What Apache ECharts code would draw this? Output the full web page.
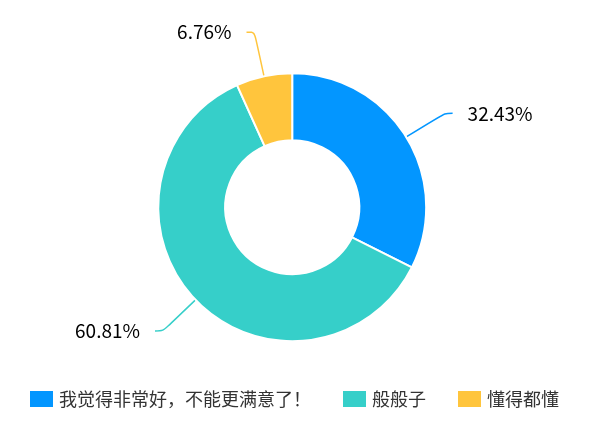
<!DOCTYPE html>
<html>
<head>
<meta charset="utf-8">
<script src="https://cdn.jsdelivr.net/npm/echarts@6/dist/echarts.min.js"></script>
<style>
html, body { margin: 0; padding: 0; background: #fff; }
#chartmainPie { width: 605px; height: 428px; }
</style>
</head>
<body>
<div id="chartmainPie"></div>
<script>
// 数据
var names = ['我觉得非常好，不能更满意了！', '般般子', '懂得都懂'];
var values = [24, 45, 5];
var colors = ['#0396FF', '#36CFC9', '#FFC53D'];

function setChartMainPie() {
    var data = [];
    for (var i = 0; i < names.length; i++) {
        data.push({ name: names[i], value: values[i] });
    }
    var option = {
        color: colors,
        legend: {
            data: names,
            top: 384,
            left: 23,
            itemWidth: 25,
            itemHeight: 18,
            itemGap: 30,
            icon: 'rect',
            textStyle: {
                fontSize: 18,
                color: '#333',
                fontFamily: 'Noto Sans CJK SC'
            }
        },
        series: [{
            type: 'pie',
            center: ['48.3%', '48.4%'],
            radius: ['31.3%', '62.6%'],
            data: data,
            itemStyle: {
                borderColor: '#fff',
                borderWidth: 2
            },
            label: {
                formatter: function (p) {
                    return p.percent.toFixed(2) + '%';
                },
                fontSize: 19,
                color: '#000',
                fontFamily: 'Noto Sans CJK SC',
                distanceToLabelLine: 15
            },
            labelLine: {
                smooth: true,
                length: 45,
                length2: 8,
                lineStyle: {
                    width: 1.5
                }
            },
            percentPrecision: 2
        }]
    };
    var myChart = echarts.init(document.getElementById('chartmainPie'));
    myChart.setOption(option);
}
setChartMainPie();
</script>
</body>
</html>
